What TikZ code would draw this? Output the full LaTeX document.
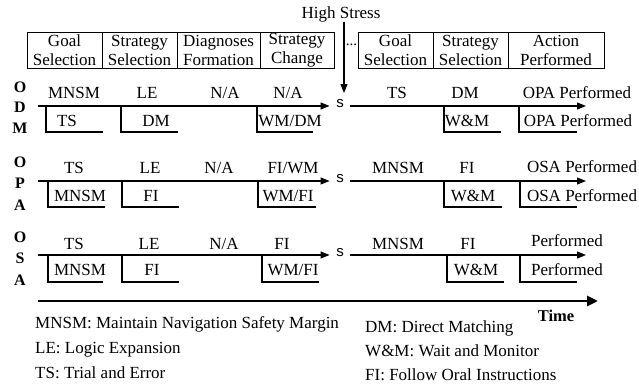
\documentclass[tikz,border=0pt]{standalone}
\usepackage{fontspec}
\setmainfont{Liberation Serif}
\newfontfamily\sansfont{Liberation Sans}
\usetikzlibrary{arrows.meta}

\begin{document}
\begin{tikzpicture}[x=1pt,y=-1pt,
  txt/.style={inner sep=0pt, font=\fontsize{17}{19}\selectfont,
    text height=11.3pt, text depth=0pt},
  side/.style={inner sep=0pt, font=\fontsize{16}{18}\selectfont\bfseries,
    text height=10.8pt, text depth=0pt},
  cell/.style={draw, line width=0.9pt, inner sep=0pt, minimum height=36pt,
    align=center, font=\fontsize{17}{19}\selectfont},
  snode/.style={inner xsep=6.5pt, inner ysep=0pt, anchor=base,
    font=\fontsize{15}{17}\sansfont},
  flow/.style={line width=1.1pt, -{Triangle[length=9pt,width=7pt]}},
  bracket/.style={line width=1.1pt},
  axis/.style={line width=2.8pt, -{Triangle[length=11pt,width=10pt]}},
  legend/.style={txt, anchor=west}
]
\useasboundingbox (0,0) rectangle (639,383);

% phase headers
\node[cell, minimum width=75pt] (h1) at (64.5,50) {Goal\\Selection};
\node[cell, minimum width=75pt] (h2) at (139.5,50) {Strategy\\Selection};
\node[cell, minimum width=83pt] (h3) at (218.5,50) {Diagnoses\\Formation};
\node[cell, minimum width=74pt] (h4) at (297,50) {Strategy\\Change};
\node[inner sep=0pt, font=\fontsize{15}{17}\selectfont] (dots) at (351.5,45) {...};
\node[cell, minimum width=75pt] (h5) at (395.5,50) {Goal\\Selection};
\node[cell, minimum width=75pt] (h6) at (470.5,50) {Strategy\\Selection};
\node[cell, minimum width=96pt] (h7) at (556,50) {Action\\Performed};

% high stress marker
\node[txt] (hs) at (341,13) {High Stress};
\coordinate (hsEnd) at (344,93);
\draw[flow] (hs.south -| hsEnd) ++(0,3) -- (hsEnd);

% ---------- ODM ----------
\node[side] (odmO) at (20,87) {O};
\node[side] (odmD) at (20,107) {D};
\node[side] (odmM) at (20,128) {M};
\coordinate (odmStart) at (38,106);
\coordinate (odmEnd) at (586,106);
\node[snode] (odmS) at (340,107) {s};
\draw[flow] (odmStart) -- (odmStart -| odmS.west);
\draw[flow] (odmEnd -| odmS.east) -- (odmEnd);
\node[txt] at (74,93) {MNSM};
\node[txt] at (147,93) {LE};
\node[txt] at (225,93) {N/A};
\node[txt] at (288,93) {N/A};
\node[txt] at (397,93) {TS};
\node[txt] at (465,93) {DM};
\node[txt] at (577,93) {OPA Performed};
\foreach \a/\b in {46/103,121/178,257/313,444/501,519/577}
  \draw[bracket] (\a,106) |- (\b,132);
\node[txt] at (67,121) {TS};
\node[txt] at (156,121) {DM};
\node[txt] at (290,121) {WM/DM};
\node[txt] at (467,121) {W\&M};
\node[txt] at (578,121) {OPA Performed};

% ---------- OPA ----------
\node[side] (opaO) at (20,162) {O};
\node[side] (opaP) at (20,183) {P};
\node[side] (opaA) at (20,205) {A};
\coordinate (opaStart) at (38,181);
\coordinate (opaEnd) at (586,181);
\node[snode] (opaS) at (340,182) {s};
\draw[flow] (opaStart) -- (opaStart -| opaS.west);
\draw[flow] (opaEnd -| opaS.east) -- (opaEnd);
\node[txt] at (74,168) {TS};
\node[txt] at (150,168) {LE};
\node[txt] at (219,168) {N/A};
\node[txt] at (293,168) {FI/WM};
\node[txt] at (398,168) {MNSM};
\node[txt] at (467,168) {FI};
\node[txt] at (582,167) {OSA Performed};
\foreach \a/\b in {48/105,122/179,258/316,444/502,520/577}
  \draw[bracket] (\a,181) |- (\b,207);
\node[txt] at (80,196) {MNSM};
\node[txt] at (151,196) {FI};
\node[txt] at (288,196) {WM/FI};
\node[txt] at (473,196) {W\&M};
\node[txt] at (582,196) {OSA Performed};

% ---------- OSA ----------
\node[side] (osaO) at (20,237) {O};
\node[side] (osaS) at (20,258) {S};
\node[side] (osaA) at (20,280) {A};
\coordinate (osaStart) at (38,255);
\coordinate (osaEnd) at (586,255);
\node[snode] (osaSn) at (340,256) {s};
\draw[flow] (osaStart) -- (osaStart -| osaSn.west);
\draw[flow] (osaEnd -| osaSn.east) -- (osaEnd);
\node[txt] at (74,244) {TS};
\node[txt] at (149,244) {LE};
\node[txt] at (224,244) {N/A};
\node[txt] at (282,244) {FI};
\node[txt] at (398,244) {MNSM};
\node[txt] at (468,244) {FI};
\node[txt] at (567,241) {Performed};
\foreach \a/\b in {48/103,122/179,262/319,447/504,520/577}
  \draw[bracket] (\a,255) |- (\b,282);
\node[txt] at (80,270) {MNSM};
\node[txt] at (152,270) {FI};
\node[txt] at (293,270) {WM/FI};
\node[txt] at (476,270) {W\&M};
\node[txt] at (567,270) {Performed};

% time axis
\coordinate (tStart) at (38,301);
\coordinate (tEnd) at (598,301);
\draw[axis] (tStart) -- (tEnd);
\node[txt, font=\fontsize{16.5}{18}\selectfont\bfseries] (time) at (556,316) {Time};

% legend
\node[legend] (l1) at (35,323) {MNSM: Maintain Navigation Safety Margin};
\node[legend] (l2) at (35,348) {LE: Logic Expansion};
\node[legend] (l3) at (35,373) {TS: Trial and Error};
\node[legend] (l4) at (365,327) {DM: Direct Matching};
\node[legend] (l5) at (365,351) {W\&M: Wait and Monitor};
\node[legend] (l6) at (365,375) {FI: Follow Oral Instructions};
\end{tikzpicture}
\end{document}
